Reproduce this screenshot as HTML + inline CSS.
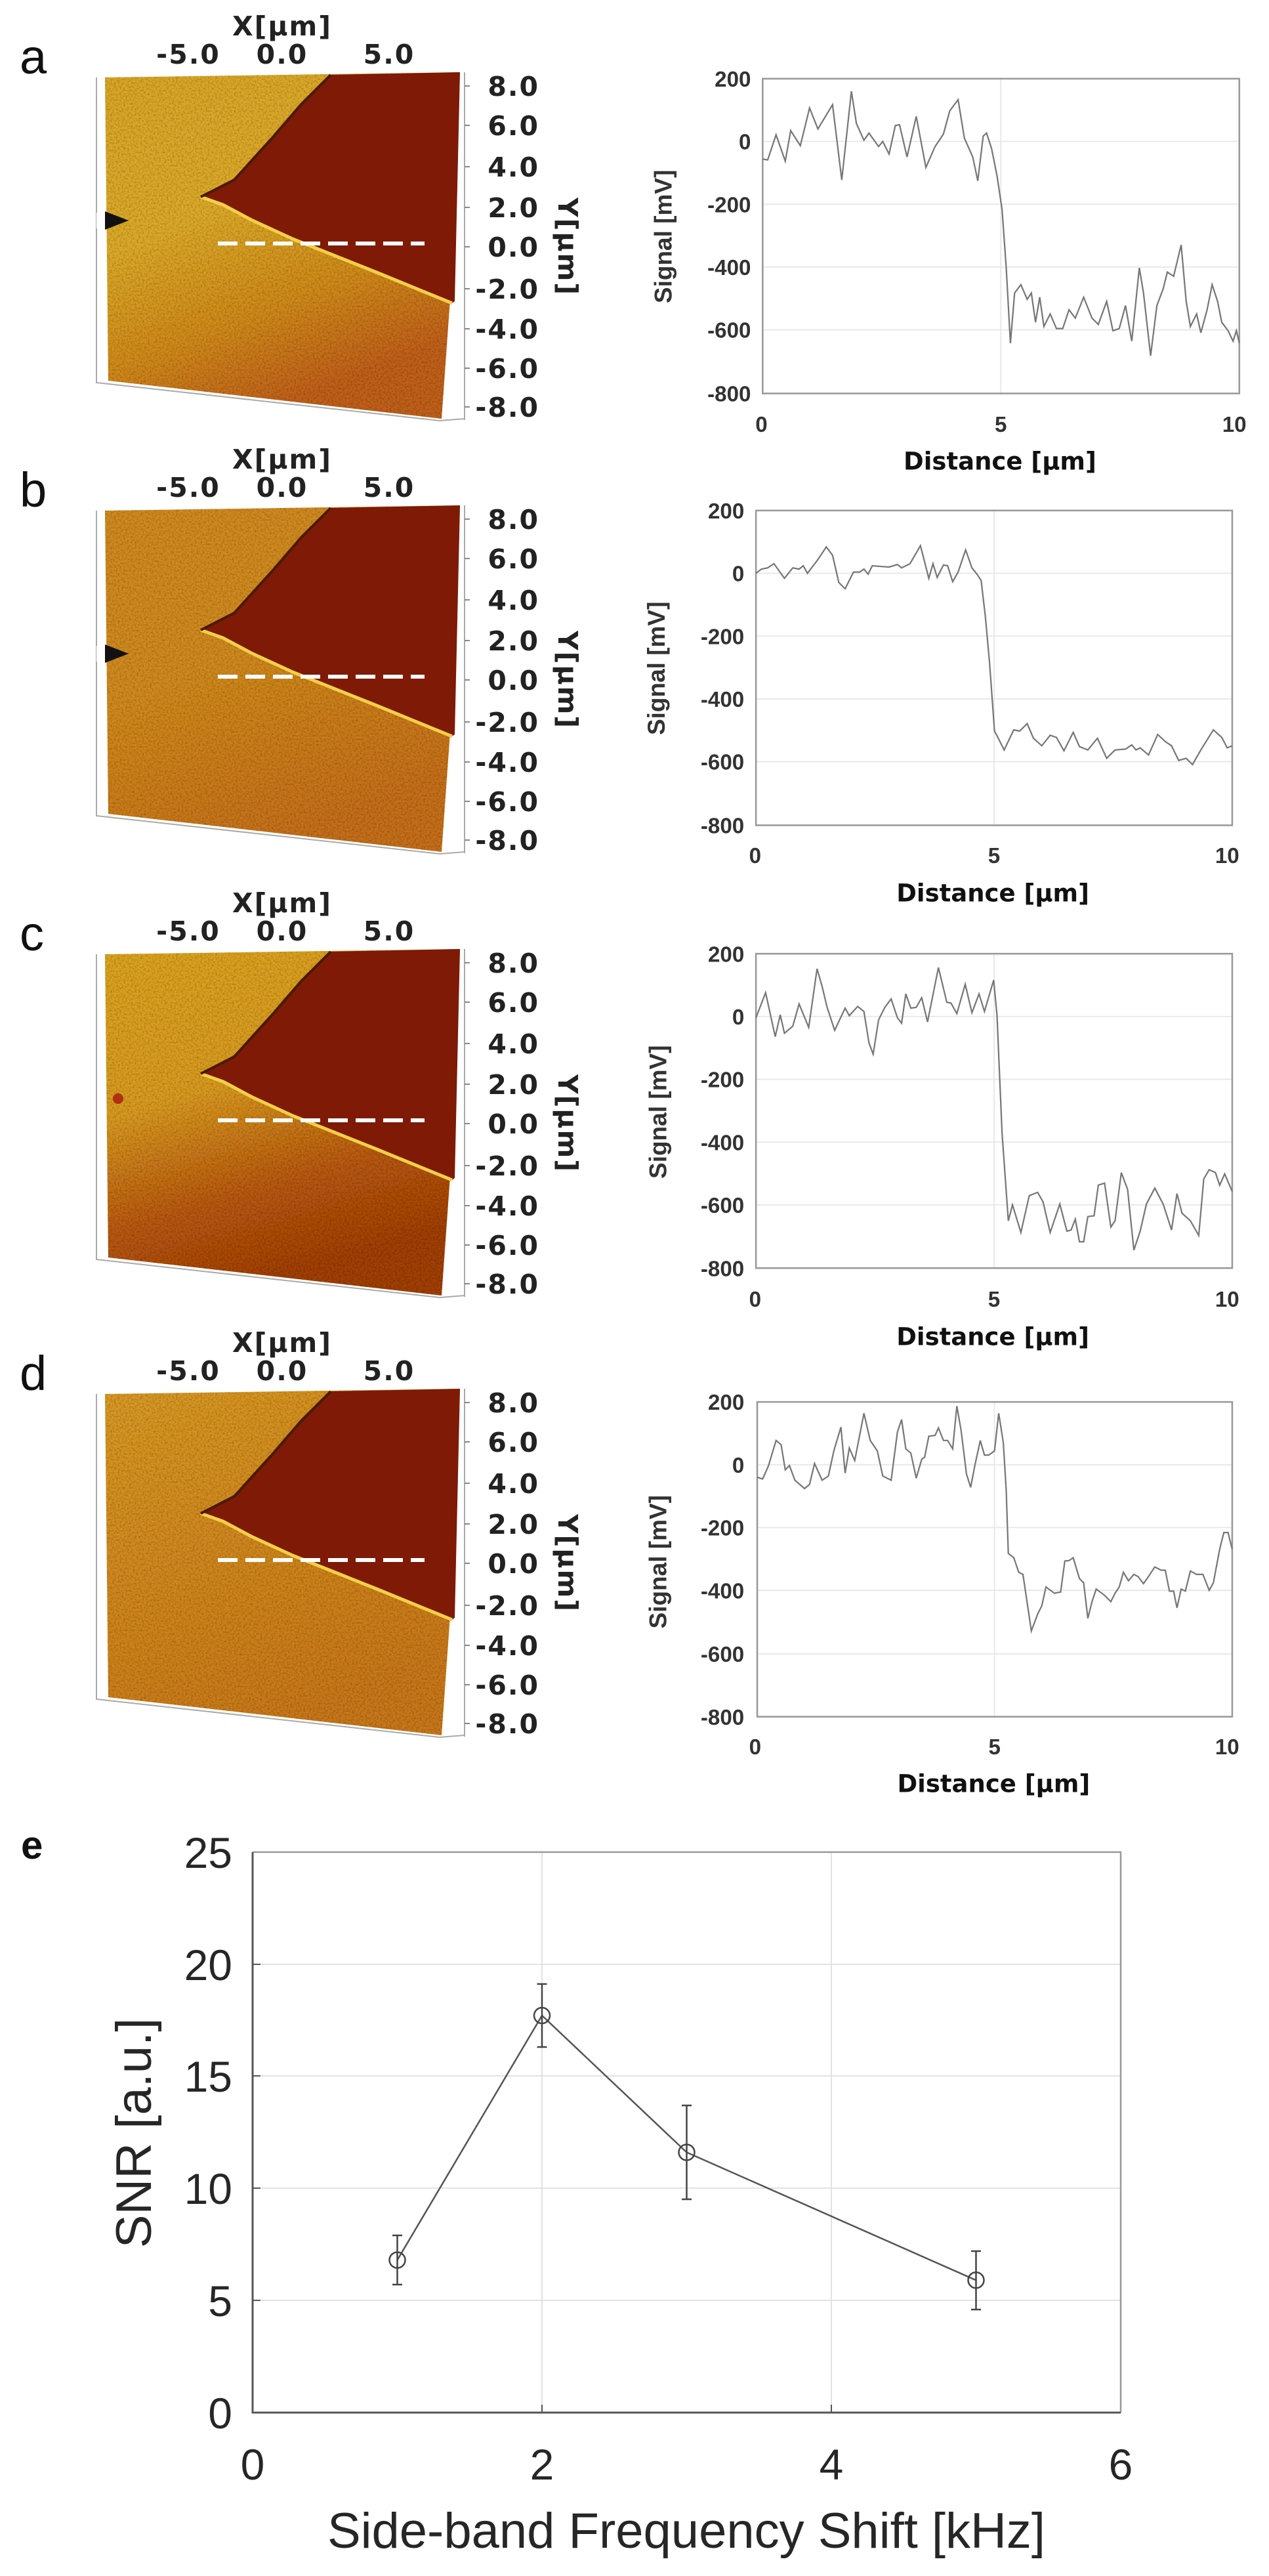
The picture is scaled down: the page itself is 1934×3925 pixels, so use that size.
<!DOCTYPE html>
<html><head><meta charset="utf-8"><style>
html,body{margin:0;padding:0;background:#fff}
svg{display:block}
.mt{font-family:"DejaVu Sans","Liberation Sans",sans-serif;font-weight:bold;font-size:41px;fill:#222;letter-spacing:2px}
.pl{font-family:"Liberation Sans",sans-serif;font-size:74px;fill:#111}
.ct{font-family:"Liberation Sans",sans-serif;font-weight:bold;font-size:52px;fill:#333}
.cl{font-family:"DejaVu Sans","Liberation Sans",sans-serif;font-weight:bold;font-size:58px;fill:#111}
.et{font-family:"Liberation Sans",sans-serif;font-size:66px;fill:#262626}
.el{font-family:"Liberation Sans",sans-serif;font-size:76px;fill:#262626}
</style></head><body>
<svg width="1934" height="3925" viewBox="0 0 1934 3925" xmlns="http://www.w3.org/2000/svg">
<defs>
<filter id="grain" x="0" y="0" width="100%" height="100%">
<feTurbulence type="fractalNoise" baseFrequency="0.35" numOctaves="2" seed="3" result="n"/>
<feColorMatrix in="n" type="matrix" values="0 0 0 0 0  0 0 0 0 0  0 0 0 0 0  0 0 0 0.9 -0.35" result="m"/>
<feComposite in="m" in2="SourceGraphic" operator="in" result="c"/>
<feMerge><feMergeNode in="SourceGraphic"/><feMergeNode in="c"/></feMerge>
</filter>
<linearGradient id="gA" x1="0" y1="0" x2="0.4" y2="1"><stop offset="0" stop-color="#d9a628"/><stop offset="0.45" stop-color="#dcaa2a"/><stop offset="0.75" stop-color="#cf8a1c"/><stop offset="1" stop-color="#c0601a"/></linearGradient>
<linearGradient id="gB" x1="0" y1="0" x2="0.4" y2="1"><stop offset="0" stop-color="#d08a22"/><stop offset="0.5" stop-color="#d08a20"/><stop offset="1" stop-color="#c5701a"/></linearGradient>
<linearGradient id="gC" x1="0" y1="0" x2="0.3" y2="1"><stop offset="0" stop-color="#dba424"/><stop offset="0.45" stop-color="#d89a22"/><stop offset="0.75" stop-color="#b85a14"/><stop offset="1" stop-color="#a0400e"/></linearGradient>
<linearGradient id="gD" x1="0" y1="0" x2="0.4" y2="1"><stop offset="0" stop-color="#d89a26"/><stop offset="0.5" stop-color="#d08820"/><stop offset="1" stop-color="#c8781c"/></linearGradient>
<g id="mapshapes">
<path d="M147 118 V583 L670 641 M708 110 V640 M670 641 L708 638" stroke="#aaa" stroke-width="2" fill="none"/>
<path d="M708 131h8M708 191h8M708 254h8M708 316h8M708 376h8M708 440h8M708 501h8M708 561h8M708 620h8" stroke="#888" stroke-width="2"/>
</g>
<g id="dark">
<path d="M504 114 L701 110 L693 459 L689 462 L574 415 L446 364 L383 335 L340 312 L306 300 L357 274 L415 210 L459 159 Z" fill="#7e1a06"/>
<path d="M306 300 L340 312 L383 335 L446 364 L574 415 L689 462" stroke="#f2cf48" stroke-width="5" fill="none"/>
<path d="M306 300 L357 274 L415 210 L459 159 L504 114" stroke="#4a1a06" stroke-width="4" fill="none"/>
<line x1="332" y1="371" x2="647" y2="371" stroke="#fff" stroke-width="6" stroke-dasharray="30 12"/>
</g>
</defs>

<!-- MAPS -->
<g>
<use href="#mapshapes"/>
<polygon points="160,118 701,110 690,400 673,638 165,580" fill="url(#gA)" filter="url(#grain)"/>
<use href="#dark"/>
<rect x="147" y="324" width="16" height="24" fill="#fff"/><polygon points="160,322 196,336 160,350" fill="#111"/>
<text class="pl" x="30" y="112">a</text>
<text class="mt" x="430" y="54" text-anchor="middle">X[μm]</text>
<text class="mt" x="287" y="97" text-anchor="middle">-5.0</text><text class="mt" x="430" y="97" text-anchor="middle">0.0</text><text class="mt" x="593" y="97" text-anchor="middle">5.0</text>
<text class="mt" x="822" y="146" text-anchor="end">8.0</text><text class="mt" x="822" y="206" text-anchor="end">6.0</text><text class="mt" x="822" y="269" text-anchor="end">4.0</text><text class="mt" x="822" y="331" text-anchor="end">2.0</text><text class="mt" x="822" y="391" text-anchor="end">0.0</text><text class="mt" x="822" y="455" text-anchor="end">-2.0</text><text class="mt" x="822" y="516" text-anchor="end">-4.0</text><text class="mt" x="822" y="576" text-anchor="end">-6.0</text><text class="mt" x="822" y="635" text-anchor="end">-8.0</text>
<text class="mt" transform="translate(851,376) rotate(90)" text-anchor="middle">Y[μm]</text>
</g>
<g transform="translate(0,660)">
<use href="#mapshapes"/>
<polygon points="160,118 701,110 690,400 673,638 165,580" fill="url(#gB)" filter="url(#grain)"/>
<use href="#dark"/>
<rect x="147" y="324" width="16" height="24" fill="#fff"/><polygon points="160,322 196,336 160,350" fill="#111"/>
<text class="pl" x="30" y="112">b</text>
<text class="mt" x="430" y="54" text-anchor="middle">X[μm]</text>
<text class="mt" x="287" y="97" text-anchor="middle">-5.0</text><text class="mt" x="430" y="97" text-anchor="middle">0.0</text><text class="mt" x="593" y="97" text-anchor="middle">5.0</text>
<text class="mt" x="822" y="146" text-anchor="end">8.0</text><text class="mt" x="822" y="206" text-anchor="end">6.0</text><text class="mt" x="822" y="269" text-anchor="end">4.0</text><text class="mt" x="822" y="331" text-anchor="end">2.0</text><text class="mt" x="822" y="391" text-anchor="end">0.0</text><text class="mt" x="822" y="455" text-anchor="end">-2.0</text><text class="mt" x="822" y="516" text-anchor="end">-4.0</text><text class="mt" x="822" y="576" text-anchor="end">-6.0</text><text class="mt" x="822" y="635" text-anchor="end">-8.0</text>
<text class="mt" transform="translate(851,376) rotate(90)" text-anchor="middle">Y[μm]</text>
</g>
<g transform="translate(0,1336)">
<use href="#mapshapes"/>
<polygon points="160,118 701,110 690,400 673,638 165,580" fill="url(#gC)" filter="url(#grain)"/>
<use href="#dark"/>
<circle cx="180" cy="338" r="8" fill="#b03010"/>
<text class="pl" x="30" y="112">c</text>
<text class="mt" x="430" y="54" text-anchor="middle">X[μm]</text>
<text class="mt" x="287" y="97" text-anchor="middle">-5.0</text><text class="mt" x="430" y="97" text-anchor="middle">0.0</text><text class="mt" x="593" y="97" text-anchor="middle">5.0</text>
<text class="mt" x="822" y="146" text-anchor="end">8.0</text><text class="mt" x="822" y="206" text-anchor="end">6.0</text><text class="mt" x="822" y="269" text-anchor="end">4.0</text><text class="mt" x="822" y="331" text-anchor="end">2.0</text><text class="mt" x="822" y="391" text-anchor="end">0.0</text><text class="mt" x="822" y="455" text-anchor="end">-2.0</text><text class="mt" x="822" y="516" text-anchor="end">-4.0</text><text class="mt" x="822" y="576" text-anchor="end">-6.0</text><text class="mt" x="822" y="635" text-anchor="end">-8.0</text>
<text class="mt" transform="translate(851,376) rotate(90)" text-anchor="middle">Y[μm]</text>
</g>
<g transform="translate(0,2006)">
<use href="#mapshapes"/>
<polygon points="160,118 701,110 690,400 673,638 165,580" fill="url(#gD)" filter="url(#grain)"/>
<use href="#dark"/>
<text class="pl" x="30" y="112">d</text>
<text class="mt" x="430" y="54" text-anchor="middle">X[μm]</text>
<text class="mt" x="287" y="97" text-anchor="middle">-5.0</text><text class="mt" x="430" y="97" text-anchor="middle">0.0</text><text class="mt" x="593" y="97" text-anchor="middle">5.0</text>
<text class="mt" x="822" y="146" text-anchor="end">8.0</text><text class="mt" x="822" y="206" text-anchor="end">6.0</text><text class="mt" x="822" y="269" text-anchor="end">4.0</text><text class="mt" x="822" y="331" text-anchor="end">2.0</text><text class="mt" x="822" y="391" text-anchor="end">0.0</text><text class="mt" x="822" y="455" text-anchor="end">-2.0</text><text class="mt" x="822" y="516" text-anchor="end">-4.0</text><text class="mt" x="822" y="576" text-anchor="end">-6.0</text><text class="mt" x="822" y="635" text-anchor="end">-8.0</text>
<text class="mt" transform="translate(851,376) rotate(90)" text-anchor="middle">Y[μm]</text>
</g>

<!-- CHART a (zoom coords) -->
<g transform="translate(934,0) scale(0.6378)">
<g stroke="#e8e8e8" stroke-width="3"><line x1="358" y1="338" x2="1497" y2="338"/><line x1="358" y1="488" x2="1497" y2="488"/><line x1="358" y1="638" x2="1497" y2="638"/><line x1="358" y1="788" x2="1497" y2="788"/><line x1="927" y1="188" x2="927" y2="940"/></g>
<rect x="358" y="188" width="1139" height="752" fill="none" stroke="#999" stroke-width="4"/>
<polyline fill="none" stroke="#777" stroke-width="3.5" points="358,380 370,382 390,322 412,385 425,312 448,348 470,258 490,308 525,250 547,430 570,218 582,295 600,335 612,318 635,350 645,338 660,368 675,300 685,298 703,375 725,278 748,400 770,350 790,320 805,265 825,238 840,330 860,375 872,432 885,325 893,318 905,355 918,420 930,500 940,640 950,820 960,700 975,680 990,715 1000,700 1010,770 1020,710 1030,780 1045,750 1060,785 1075,785 1090,740 1105,760 1125,710 1145,760 1160,775 1180,720 1195,790 1210,785 1225,730 1240,815 1258,640 1268,700 1285,850 1300,730 1315,690 1325,650 1340,660 1358,585 1370,720 1380,780 1395,750 1405,795 1420,740 1432,680 1445,720 1455,770 1470,790 1482,815 1490,790 1497,820"/>
<g class="ct" text-anchor="end"><text x="330" y="207">200</text><text x="330" y="357">0</text><text x="330" y="507">-200</text><text x="330" y="657">-400</text><text x="330" y="807">-600</text><text x="330" y="959">-800</text></g>
<g class="ct" text-anchor="middle"><text x="355" y="1032">0</text><text x="927" y="1032">5</text><text x="1485" y="1032">10</text></g>
<text class="cl" x="925" y="1122" text-anchor="middle">Distance [μm]</text>
<text class="ct" transform="translate(140,565) rotate(-90)" text-anchor="middle" style="font-size:58px">Signal [mV]</text>
</g>

<!-- CHART b -->
<g transform="translate(934,760) scale(0.6378)">
<g stroke="#e8e8e8" stroke-width="3"><line x1="342" y1="178" x2="1480" y2="178"/><line x1="342" y1="328" x2="1480" y2="328"/><line x1="342" y1="478" x2="1480" y2="478"/><line x1="342" y1="628" x2="1480" y2="628"/><line x1="911" y1="28" x2="911" y2="780"/></g>
<rect x="342" y="28" width="1138" height="752" fill="none" stroke="#999" stroke-width="4"/>
<polyline fill="none" stroke="#777" stroke-width="3.5" points="342,178 355,168 370,165 385,155 410,190 430,165 445,168 455,160 465,178 490,145 510,115 525,135 540,200 555,215 575,175 590,175 600,168 610,180 620,160 645,162 660,163 680,157 690,165 710,155 735,112 755,190 765,155 775,188 790,158 800,160 812,198 825,175 843,122 858,165 870,180 880,195 890,280 900,390 912,555 920,570 935,600 958,552 972,555 990,537 1005,572 1025,590 1045,565 1060,570 1078,602 1100,558 1115,592 1135,600 1158,572 1180,620 1200,600 1225,598 1240,588 1250,600 1260,595 1280,612 1302,563 1320,580 1335,590 1352,625 1370,620 1385,635 1405,600 1435,552 1455,570 1468,595 1480,590"/>
<g class="ct" text-anchor="end"><text x="314" y="47">200</text><text x="314" y="197">0</text><text x="314" y="347">-200</text><text x="314" y="497">-400</text><text x="314" y="647">-600</text><text x="314" y="799">-800</text></g>
<g class="ct" text-anchor="middle"><text x="340" y="870">0</text><text x="911" y="870">5</text><text x="1468" y="870">10</text></g>
<text class="cl" x="908" y="962" text-anchor="middle">Distance [μm]</text>
<text class="ct" transform="translate(124,405) rotate(-90)" text-anchor="middle" style="font-size:58px">Signal [mV]</text>
</g>

<!-- CHART c -->
<g transform="translate(934,1420) scale(0.6378)">
<g stroke="#e8e8e8" stroke-width="3"><line x1="342" y1="202" x2="1480" y2="202"/><line x1="342" y1="352" x2="1480" y2="352"/><line x1="342" y1="502" x2="1480" y2="502"/><line x1="342" y1="652" x2="1480" y2="652"/><line x1="911" y1="52" x2="911" y2="803"/></g>
<rect x="342" y="52" width="1138" height="751" fill="none" stroke="#999" stroke-width="4"/>
<polyline fill="none" stroke="#777" stroke-width="3.5" points="342,205 365,145 388,250 400,198 410,242 430,225 445,172 468,228 488,88 500,130 512,180 530,235 555,182 565,200 585,178 600,190 612,265 622,292 635,210 650,180 665,160 680,205 690,218 700,148 712,182 725,180 738,157 752,215 778,85 798,168 808,170 822,195 842,125 858,193 875,148 888,190 910,115 918,200 930,480 945,690 955,652 975,718 995,630 1015,622 1028,645 1045,718 1068,650 1085,715 1095,712 1105,686 1115,740 1125,740 1135,680 1150,678 1160,605 1175,600 1190,705 1200,690 1215,575 1230,615 1245,760 1260,715 1275,650 1295,612 1315,650 1335,712 1348,625 1360,672 1380,690 1400,725 1412,590 1425,568 1440,575 1450,605 1462,578 1480,620"/>
<g class="ct" text-anchor="end"><text x="314" y="71">200</text><text x="314" y="221">0</text><text x="314" y="371">-200</text><text x="314" y="521">-400</text><text x="314" y="671">-600</text><text x="314" y="822">-800</text></g>
<g class="ct" text-anchor="middle"><text x="340" y="895">0</text><text x="911" y="895">5</text><text x="1468" y="895">10</text></g>
<text class="cl" x="908" y="987" text-anchor="middle">Distance [μm]</text>
<text class="ct" transform="translate(128,430) rotate(-90)" text-anchor="middle" style="font-size:58px">Signal [mV]</text>
</g>

<!-- CHART d -->
<g transform="translate(934,2080) scale(0.6378)">
<g stroke="#e8e8e8" stroke-width="3"><line x1="345" y1="238" x2="1480" y2="238"/><line x1="345" y1="388" x2="1480" y2="388"/><line x1="345" y1="538" x2="1480" y2="538"/><line x1="345" y1="690" x2="1480" y2="690"/><line x1="912" y1="88" x2="912" y2="840"/></g>
<rect x="345" y="88" width="1135" height="752" fill="none" stroke="#999" stroke-width="4"/>
<polyline fill="none" stroke="#777" stroke-width="3.5" points="345,268 358,272 372,240 390,180 402,190 412,250 422,240 435,275 458,295 470,285 482,235 500,275 515,265 528,205 545,148 555,258 565,198 578,228 600,115 615,180 632,205 645,265 665,275 680,160 690,130 700,200 712,210 725,270 738,225 745,220 755,170 770,168 778,150 790,180 800,180 812,200 822,98 832,155 845,260 855,292 865,240 878,180 888,215 898,215 912,205 922,115 933,185 940,300 945,450 958,460 970,495 980,500 1000,635 1015,595 1025,575 1035,530 1055,545 1070,542 1080,468 1090,467 1100,460 1115,510 1125,520 1135,605 1145,565 1155,535 1175,550 1190,565 1200,545 1210,530 1220,495 1232,515 1245,500 1255,505 1268,522 1280,505 1295,482 1310,490 1320,490 1330,540 1340,540 1348,580 1358,535 1368,540 1380,492 1395,500 1410,500 1425,538 1435,520 1450,440 1460,400 1470,400 1480,440"/>
<g class="ct" text-anchor="end"><text x="314" y="107">200</text><text x="314" y="257">0</text><text x="314" y="407">-200</text><text x="314" y="557">-400</text><text x="314" y="709">-600</text><text x="314" y="859">-800</text></g>
<g class="ct" text-anchor="middle"><text x="340" y="930">0</text><text x="912" y="930">5</text><text x="1468" y="930">10</text></g>
<text class="cl" x="910" y="1020" text-anchor="middle">Distance [μm]</text>
<text class="ct" transform="translate(128,470) rotate(-90)" text-anchor="middle" style="font-size:58px">Signal [mV]</text>
</g>

<!-- PANEL e -->
<text x="32" y="2832" style="font-family:'Liberation Sans',sans-serif;font-weight:bold;font-size:60px;fill:#111">e</text>
<g stroke="#e2e2e2" stroke-width="2">
<line x1="385" y1="3505" x2="1708" y2="3505"/><line x1="385" y1="3334" x2="1708" y2="3334"/><line x1="385" y1="3163" x2="1708" y2="3163"/><line x1="385" y1="2993" x2="1708" y2="2993"/>
<line x1="826" y1="2822" x2="826" y2="3676"/><line x1="1267" y1="2822" x2="1267" y2="3676"/>
</g>
<path d="M385 2822 H1708 V3676" fill="none" stroke="#999" stroke-width="2.5"/>
<path d="M385 2822 V3676 H1708" fill="none" stroke="#555" stroke-width="3"/>
<g stroke="#555" stroke-width="2"><line x1="826" y1="3676" x2="826" y2="3664"/><line x1="1267" y1="3676" x2="1267" y2="3664"/><line x1="385" y1="3505" x2="397" y2="3505"/><line x1="385" y1="3334" x2="397" y2="3334"/><line x1="385" y1="3163" x2="397" y2="3163"/><line x1="385" y1="2993" x2="397" y2="2993"/></g>
<polyline points="605.5,3443.6 826,3071 1046.5,3279.5 1487.5,3474.3" fill="none" stroke="#555" stroke-width="2.5"/>
<g stroke="#444" stroke-width="2.5" fill="none">
<path d="M605.5 3481V3406M598 3481h15M598 3406h15"/>
<path d="M826 3119V3023M818.5 3119h15M818.5 3023h15"/>
<path d="M1046.5 3351V3208M1039 3351h15M1039 3208h15"/>
<path d="M1487.5 3519V3430M1480 3519h15M1480 3430h15"/>
<circle cx="605.5" cy="3443.6" r="12"/><circle cx="826" cy="3071" r="12"/><circle cx="1046.5" cy="3279.5" r="12"/><circle cx="1487.5" cy="3474.3" r="12"/>
</g>
<g class="et" text-anchor="end"><text x="354" y="3700">0</text><text x="354" y="3529">5</text><text x="354" y="3358">10</text><text x="354" y="3187">15</text><text x="354" y="3017">20</text><text x="354" y="2846">25</text></g>
<g class="et" text-anchor="middle"><text x="385" y="3778">0</text><text x="826" y="3778">2</text><text x="1267" y="3778">4</text><text x="1708" y="3778">6</text></g>
<text class="el" x="1046" y="3882" text-anchor="middle">Side-band Frequency Shift [kHz]</text>
<text class="el" transform="translate(230,3250) rotate(-90)" text-anchor="middle">SNR [a.u.]</text>
</svg>
</body></html>
